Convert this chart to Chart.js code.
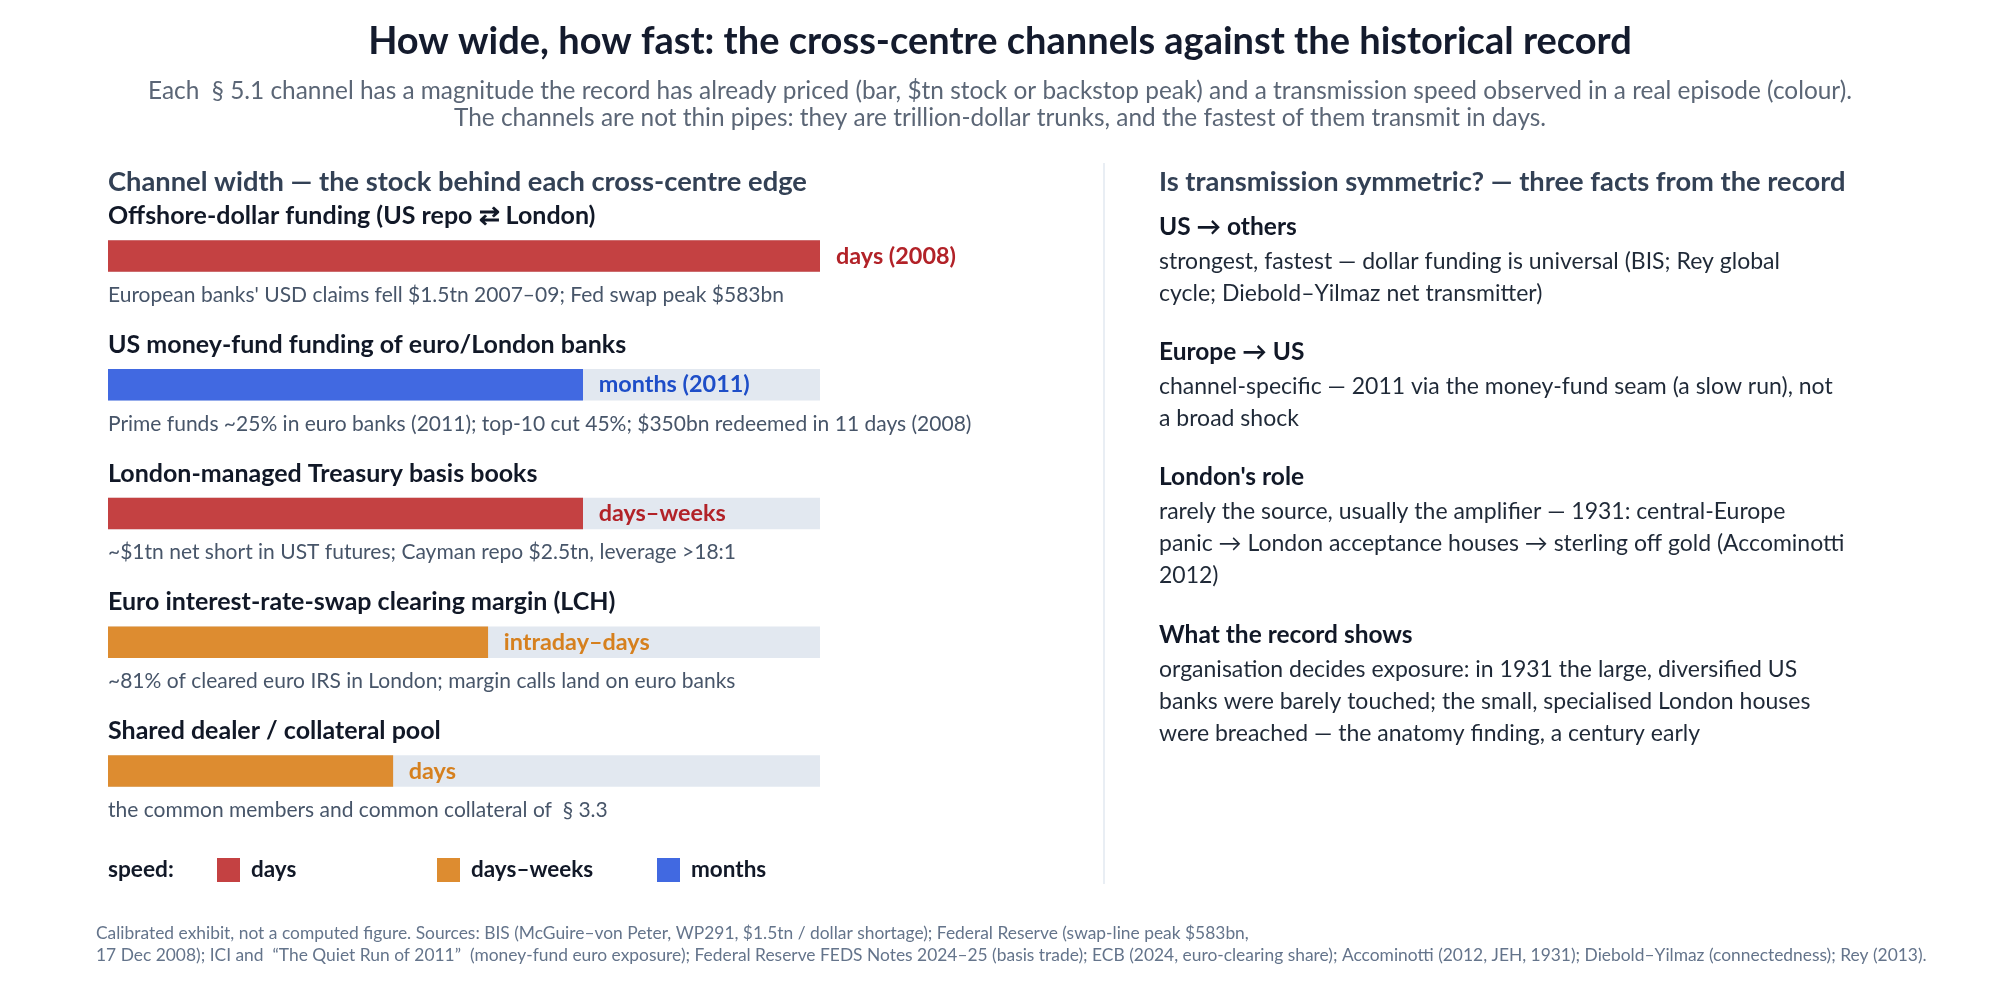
<!DOCTYPE html>
<html>
<head>
<meta charset="utf-8">
<script src="https://cdn.jsdelivr.net/npm/chart.js@4.4.1/dist/chart.umd.min.js"></script>
<style>
  html, body { margin: 0; padding: 0; background: #ffffff; }
  #wrap { width: 2000px; height: 983px; position: relative; }
</style>
</head>
<body>
<div id="wrap"><canvas id="channelChart" width="2000" height="983"></canvas></div>
<script>
// channel data, top to bottom
const channels = [
    'Offshore-dollar funding (US repo \u21C4 London)',
    'US money-fund funding of euro/London banks',
    'London-managed Treasury basis books',
    'Euro interest-rate-swap clearing margin (LCH)',
    'Shared dealer / collateral pool'
];
const stockTn = [1.5, 1.0, 1.0, 0.8, 0.6];
const speedText = ['days (2008)', 'months (2011)', 'days\u2013weeks', 'intraday\u2013days', 'days'];
const speedKey = ['days', 'months', 'days', 'weeks', 'weeks'];
const notes = [
    "European banks' USD claims fell $1.5tn 2007\u201309; Fed swap peak $583bn",
    'Prime funds ~25% in euro banks (2011); top-10 cut 45%; $350bn redeemed in 11 days (2008)',
    '~$1tn net short in UST futures; Cayman repo $2.5tn, leverage >18:1',
    '~81% of cleared euro IRS in London; margin calls land on euro banks',
    'the common members and common collateral of  \u00A7 3.3'
];
const scaleMax = 1.5;

const legendNames = ['days', 'days\u2013weeks', 'months'];
const legendKeys = ['days', 'weeks', 'months'];

const facts = [
    { head: 'US \u2192 others', body: ['strongest, fastest \u2014 dollar funding is universal (BIS; Rey global', 'cycle; Diebold\u2013Yilmaz net transmitter)'] },
    { head: 'Europe \u2192 US', body: ['channel-specific \u2014 2011 via the money-fund seam (a slow run), not', 'a broad shock'] },
    { head: "London's role", body: ['rarely the source, usually the amplifier \u2014 1931: central-Europe', 'panic \u2192 London acceptance houses \u2192 sterling off gold (Accominotti', '2012)'] },
    { head: 'What the record shows', body: ['organisation decides exposure: in 1931 the large, diversified US', 'banks were barely touched; the small, specialised London houses', 'were breached \u2014 the anatomy finding, a century early'] }
];

const titleText = 'How wide, how fast: the cross-centre channels against the historical record';
const subtitleLines = [
    'Each  \u00A7 5.1 channel has a magnitude the record has already priced (bar, $tn stock or backstop peak) and a transmission speed observed in a real episode (colour).',
    'The channels are not thin pipes: they are trillion-dollar trunks, and the fastest of them transmit in days.'
];
const footerLines = [
    'Calibrated exhibit, not a computed figure. Sources: BIS (McGuire\u2013von Peter, WP291, $1.5tn / dollar shortage); Federal Reserve (swap-line peak $583bn,',
    '17 Dec 2008); ICI and  \u201CThe Quiet Run of 2011\u201D  (money-fund euro exposure); Federal Reserve FEDS Notes 2024\u201325 (basis trade); ECB (2024, euro-clearing share); Accominotti (2012, JEH, 1931); Diebold\u2013Yilmaz (connectedness); Rey (2013).'
];

const barColor = { days: 'rgb(196, 65, 66)', weeks: 'rgb(221, 140, 48)', months: 'rgb(65, 105, 225)' };
const labelColor = { days: 'rgb(178, 34, 40)', weeks: 'rgb(214, 128, 30)', months: 'rgb(30, 78, 200)' };
const trackColor = 'rgb(226, 232, 240)';
const FONT = 'Lato, "Noto Sans", sans-serif';

function text(ctx, str, x, y, size, weight, color, align) {
    ctx.font = weight + ' ' + size + 'px ' + FONT;
    ctx.fillStyle = color;
    ctx.textAlign = align || 'left';
    ctx.textBaseline = 'middle';
    ctx.fillText(str, x, y);
}

const decorPlugin = {
    id: 'decor',
    afterDatasetsDraw(chart) {
        const ctx = chart.ctx;
        const xs = chart.scales.x;
        const ys = chart.scales.y;
        ctx.save();

        // header
        text(ctx, titleText, 1000, 42, 38, 'bold', '#141b2d', 'center');
        subtitleLines.forEach((l, i) => text(ctx, l, 1000, 91 + i * 27, 24.4, 'normal', '#5b6676', 'center'));

        // panel headings + divider
        text(ctx, 'Channel width \u2014 the stock behind each cross-centre edge', 108, 182, 27.3, 'bold', '#334155');
        text(ctx, 'Is transmission symmetric? \u2014 three facts from the record', 1159, 182, 27.3, 'bold', '#334155');
        ctx.strokeStyle = '#e2e8f0';
        ctx.lineWidth = 1.5;
        ctx.beginPath();
        ctx.moveTo(1104, 163);
        ctx.lineTo(1104, 884);
        ctx.stroke();

        // per-bar titles, speed labels and notes
        channels.forEach((name, i) => {
            const cy = ys.getPixelForValue(i);
            text(ctx, name, 108, cy - 40, 25, 'bold', '#111827');
            text(ctx, notes[i], 108, cy + 39, 21, 'normal', '#475569');
            text(ctx, speedText[i], xs.getPixelForValue(stockTn[i]) + 16, cy, 23.4, 'bold', labelColor[speedKey[i]]);
        });

        // speed legend
        text(ctx, 'speed:', 108, 870, 22.7, 'bold', '#111827');
        legendNames.forEach((n, i) => {
            const lx = 217 + i * 220;
            ctx.fillStyle = barColor[legendKeys[i]];
            ctx.fillRect(lx, 858, 23, 24);
            text(ctx, n, lx + 34, 870, 22.5, 'bold', '#111827');
        });

        // right panel facts
        const factTops = [227, 352, 477, 635];
        facts.forEach((f, i) => {
            text(ctx, f.head, 1159, factTops[i], 24.5, 'bold', '#111827');
            f.body.forEach((l, j) => text(ctx, l, 1159, factTops[i] + 35 + j * 32, 23, 'normal', '#1f2937'));
        });

        // footer
        footerLines.forEach((l, i) => text(ctx, l, 96, 933 + i * 22, 17.4, 'normal', '#64748b'));
        ctx.restore();
    }
};

const chartData = {
    labels: channels,
    datasets: [
        {
            label: 'stock ($tn)',
            data: stockTn,
            backgroundColor: speedKey.map(k => barColor[k]),
            barThickness: 31,
            grouped: false,
            order: 1
        },
        {
            label: 'track',
            data: channels.map(() => scaleMax),
            backgroundColor: trackColor,
            barThickness: 31,
            grouped: false,
            order: 2
        }
    ]
};

const config = {
    type: 'bar',
    data: chartData,
    options: {
        indexAxis: 'y',
        animation: false,
        responsive: false,
        devicePixelRatio: 1,
        layout: {
            padding: { left: 108, right: 1180, top: 191.6, bottom: 147.6 }
        },
        plugins: {
            legend: { display: false },
            title: { display: false },
            tooltip: { enabled: false }
        },
        scales: {
            x: { display: false, min: 0, max: scaleMax },
            y: { display: false }
        }
    },
    plugins: [decorPlugin]
};

new Chart('channelChart', config);
</script>
</body>
</html>
